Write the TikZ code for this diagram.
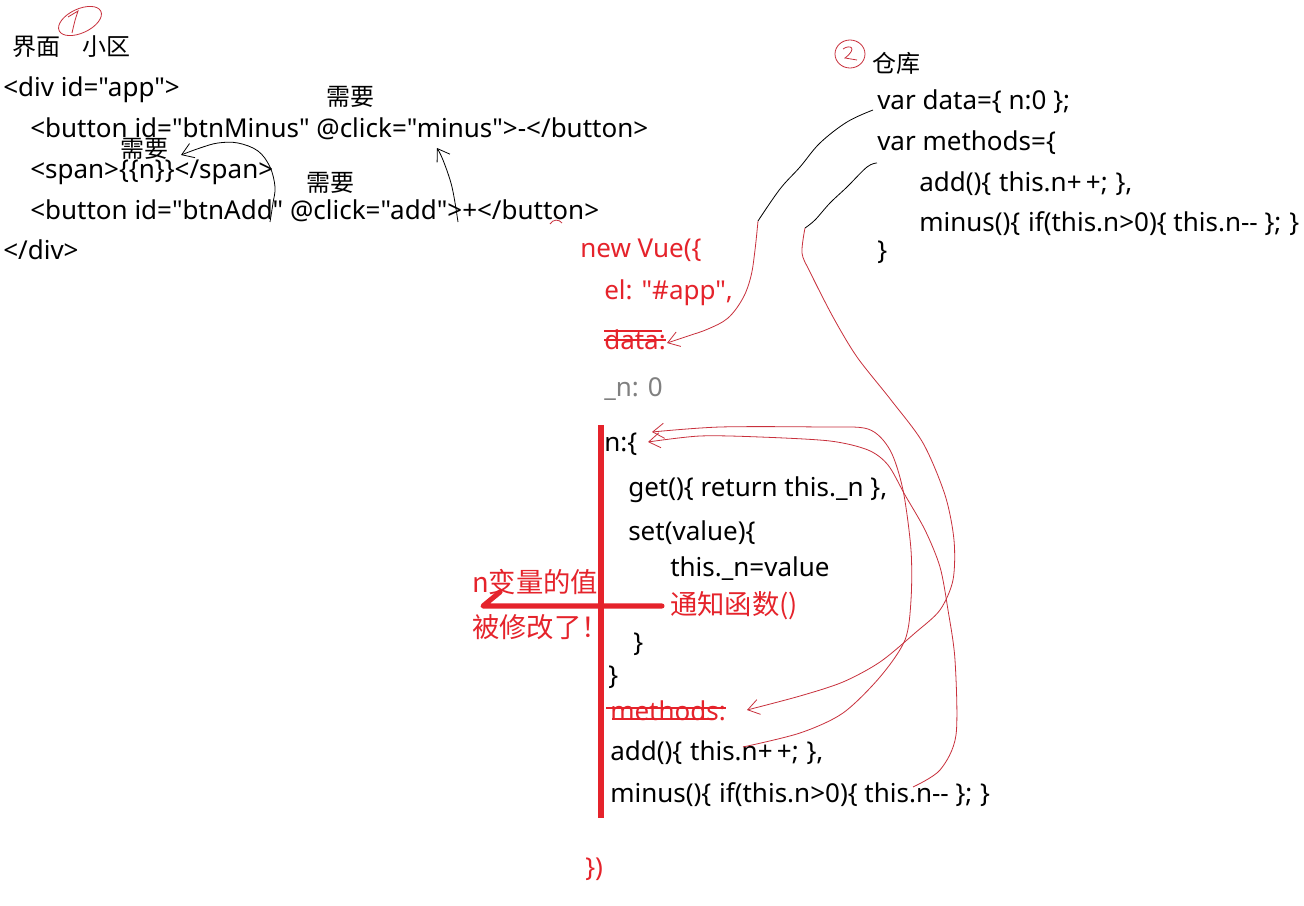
\documentclass[tikz,border=0pt]{standalone}
\usepackage{fontspec}
\setmainfont{Noto Sans}[Ligatures=TeXOff]
\newfontfamily\cjk{Noto Sans CJK SC}[Ligatures=TeXOff]
\usetikzlibrary{arrows.meta,calc}
\definecolor{skRed}{HTML}{E5232B}
\definecolor{skPen}{HTML}{C8303C}
\definecolor{skGray}{HTML}{808080}
\newcommand{\gap}{\hspace{0.3em}}
\tikzset{
  txt/.style={anchor=west, inner sep=0pt, font=\fontsize{19.5}{24}\selectfont,
    text height=18pt, text depth=4pt},
  cjktxt/.style={txt, font=\cjk\fontsize{18}{22}\selectfont},
  redtxt/.style={txt, text=skRed},
  redcjk/.style={txt, font=\cjk\fontsize{20.5}{24}\selectfont, text=skRed},
  graytxt/.style={txt, text=skGray},
  inkpen/.style={line width=0.6pt, black},
  redpen/.style={line width=0.6pt, skPen},
  barb/.style={-{Straight Barb[length=3mm, width=4mm]}},
  bar/.style={line width=3.8pt, skRed},
  strike/.style={line width=1pt, skRed}
}
\begin{document}
\begin{tikzpicture}[x=0.75pt, y=-0.75pt]
  \useasboundingbox[fill=white] (0,0) rectangle (1304,906);
  % page (left)
  \node[cjktxt] (jiemian) at (12,46) {界面};
  \node[cjktxt] (xiaoqu) at (82,46) {小区};
  \node[txt] (divopen) at (3,87) {<div id="app">};
  \node[cjktxt] (need1) at (326,96) {需要};
  \node[txt] (btnminus) at (30,128) {<button id="btnMinus" @click="minus">-</button>};
  \node[cjktxt] (need2) at (120,148) {需要};
  \node[txt] (spanline) at (30,169) {<span>\{\{n\}\}</span>};
  \node[cjktxt] (need3) at (306,182) {需要};
  \node[txt] (btnadd) at (30,210) {<button id="btnAdd" @click="add">+</button>};
  \node[txt] (divclose) at (3,250) {</div>};
  % store (right)
  \node[cjktxt] (store) at (872,63) {仓库};
  \node[txt] (vardata) at (877,100) {var data=\{ n:0 \};};
  \node[txt] (varmethods) at (877,141) {var methods=\{};
  \node[txt] (storeadd) at (919,182) {add()\{\gap this.n+\,+;\gap\},};
  \node[txt] (storeminus) at (919,222) {minus()\{\gap if(this.n>0)\{ this.n-- \};\gap\}};
  \node[txt] (storeclose) at (877,250) {\}};
  % new Vue
  \node[redtxt] (newvue) at (580,248) {new Vue(\{};
  \node[redtxt] (elline) at (604,290) {el: "\#app",};
  \node[redtxt] (datakey) at (604,340) {data:};
  \node[graytxt] (backing) at (604,387) {\_n: 0};
  \node[txt] (nopen) at (604,442) {n:\{};
  \node[txt] (getter) at (628,487) {get()\{ return this.\_n \},};
  \node[txt] (setter) at (628,531) {set(value)\{};
  \node[txt] (assign) at (670,567) {this.\_n=value};
  \node[redcjk] (notify) at (670,605) {通知函数()};
  \node[txt] (setclose) at (633,642) {\}};
  \node[txt] (nclose) at (608,675) {\}};
  \node[redtxt] (methodskey) at (610,711) {methods:};
  \node[txt] (vueadd) at (610,751) {add()\{\gap this.n+\,+;\gap\},};
  \node[txt] (vueminus) at (610,793) {minus()\{\gap if(this.n>0)\{ this.n-- \};\gap\}};
  \node[redtxt] (vueclose) at (585,867) {\})};
  \node[redcjk] (changedA) at (472,583) {n变量的值};
  \node[redcjk] (changedB) at (472,628) {被修改了！};
  % hand marks
  \draw[redpen, rotate around={25:(80,21)}] (80,21) ellipse [x radius=23, y radius=12];
  \draw[redpen] (68,17) -- (78,11) .. controls (75,20) .. (72,33);
  \draw[redpen] (850,54) ellipse [x radius=15, y radius=14];
  \draw[redpen] (843,49) .. controls (850,44) and (858,48) .. (845,58) -- (857,60);
  \draw[redpen] (550,224) .. controls (553,219) and (559,219) .. (562,223);
  \draw[strike] ($(datakey.west)+(0,-9)$) -- ($(datakey.east)+(-4,-9)$);
  \draw[strike] ($(datakey.west)+(0,0)$) -- ($(datakey.east)+(0,0)$);
  \draw[strike] ($(methodskey.west)+(-4,-3)$) -- ($(methodskey.east)+(0,-3)$);
  \draw[strike] ($(methodskey.west)+(2,8)$) -- ($(methodskey.east)+(-12,8)$);
  \draw[bar] (601,425) -- (601,818);
  \coordinate (notifyend) at ($(notify.west)+(-8,1)$);
  \coordinate (changedtip) at (483,606);
  \draw[bar, line cap=round, line join=round] (notifyend) -- (changedtip) -- (500,592);
  % black arrows on the page
  \coordinate (spanfrom) at (270,222);
  \coordinate (spantip) at (181,155);
  \draw[inkpen, barb] plot[smooth, tension=0.6] coordinates {(spanfrom) (273,203) (275,187) (270,167) (258,151) (238,143) (218,143) (200,148) (spantip)};
  \coordinate (minusfrom) at (458,222);
  \coordinate (minustip) at (437,148);
  \draw[inkpen, barb] plot[smooth, tension=0.6] coordinates {(minusfrom) (452,187) (443,160) (minustip)};
  % store -> new Vue
  \coordinate (datamid) at (758,221);
  \draw[inkpen] plot[smooth, tension=0.6] coordinates {(873,110) (847,122) (820,143) (800,167) (780,189) (datamid)};
  \draw[redpen, barb] plot[smooth, tension=0.6] coordinates {(datamid) (755,250) (751,276) (743,298) (728,318) (708,329) (688,336) (667,343)};
  \coordinate (methodsmid) at (805,228);
  \draw[inkpen] plot[smooth, tension=0.6] coordinates {($(varmethods.west)+(0,22)$) (867,167) (847,187) (830,203) (815,220) (methodsmid)};
  \draw[redpen, barb] plot[smooth, tension=0.5] coordinates {(methodsmid) (802,253) (810,272) (833,317) (857,357) (891,400) (923,443) (945,495) (954,540) (953,580) (940,610) (915,633) (880,662) (843,682) (800,696) (747,710)};
  % methods -> n
  \draw[redpen, barb] plot[smooth, tension=0.5] coordinates {(743,747) (800,733) (843,713) (880,677) (905,640) (911,600) (911,550) (903,490) (890,450) (868,429) (820,427) (720,427) (652,432)};
  \draw[redpen, barb] plot[smooth, tension=0.5] coordinates {(913,787) (940,770) (956,735) (955,660) (948,610) (940,567) (925,530) (905,495) (888,465) (868,450) (830,441) (760,437) (700,436) (648,442)};
\end{tikzpicture}
\end{document}
